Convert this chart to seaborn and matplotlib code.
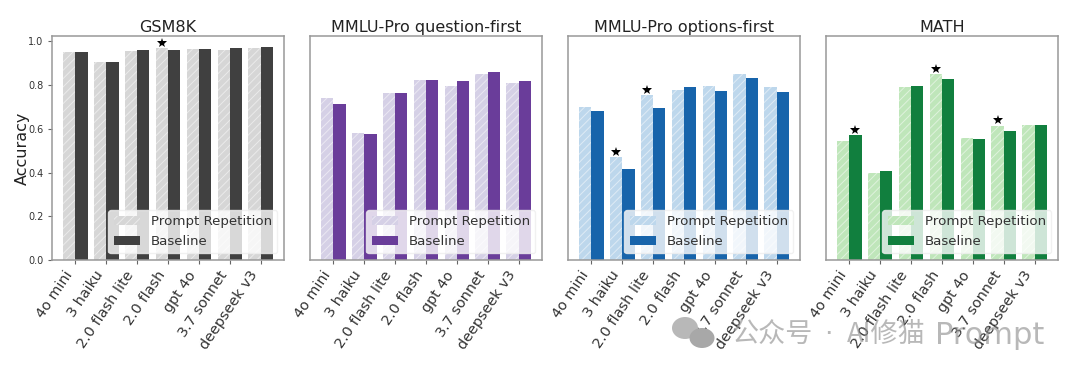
import pandas as pd
import matplotlib
matplotlib.use("Agg")
import matplotlib.pyplot as plt
from matplotlib.patches import Patch, Ellipse
import seaborn as sns

# =========================
# DADES
# =========================
models = ['4o mini', '3 haiku', '2.0 flash lite', '2.0 flash', 'gpt 4o', '3.7 sonnet', 'deepseek v3']
series_names = ['Prompt Repetition', 'Baseline']
titles = ['GSM8K', 'MMLU-Pro question-first', 'MMLU-Pro options-first', 'MATH']

gsm_rep = [0.950, 0.905, 0.955, 0.968, 0.965, 0.963, 0.970]
gsm_base = [0.950, 0.907, 0.962, 0.963, 0.965, 0.968, 0.975]
qf_rep = [0.740, 0.580, 0.765, 0.825, 0.795, 0.850, 0.812]
qf_base = [0.715, 0.575, 0.762, 0.825, 0.820, 0.860, 0.820]
of_rep = [0.700, 0.470, 0.755, 0.780, 0.795, 0.850, 0.790]
of_base = [0.680, 0.415, 0.695, 0.790, 0.775, 0.835, 0.770]
math_rep = [0.545, 0.400, 0.790, 0.850, 0.560, 0.615, 0.620]
math_base = [0.570, 0.405, 0.795, 0.830, 0.555, 0.590, 0.617]

rep_values = [gsm_rep, qf_rep, of_rep, math_rep]
base_values = [gsm_base, qf_base, of_base, math_base]

rep_colors = ['#d6d6d6', '#d5d0e6', '#bdd7ec', '#bfe6ba']
base_colors = ['#404040', '#6a3d9a', '#1764ab', '#117f3e']

# estrelles: (índex del model, índex de la sèrie)
stars = [
    [(3, 0)],
    [],
    [(1, 0), (2, 0)],
    [(0, 1), (3, 0), (5, 0)],
]

# =========================
# FIGURA
# =========================
sns.set_theme(style="ticks")
plt.rcParams['font.family'] = ['DejaVu Sans', 'Noto Sans CJK SC']
plt.rcParams['hatch.linewidth'] = 0.7

fig, axes = plt.subplots(1, 4, figsize=(10.8, 3.77), dpi=100, sharey=True)
fig.subplots_adjust(left=52/1080, right=1058/1080, top=1-36/377, bottom=1-260/377, wspace=0.112)

for i, ax in enumerate(axes):
    df = pd.DataFrame({
        'model': models * 2,
        'serie': [series_names[0]] * 7 + [series_names[1]] * 7,
        'accuracy': rep_values[i] + base_values[i],
    })
    sns.barplot(data=df, x='model', y='accuracy', hue='serie', hue_order=series_names,
                palette=[rep_colors[i], base_colors[i]], saturation=1, legend=False,
                width=0.8, gap=0, linewidth=0, ax=ax)

    # ratllat blanc de les barres de Prompt Repetition
    for bar in ax.containers[0]:
        bar.set_hatch('////')
        bar.set_edgecolor('#ffffff80')

    # estrelles sobre les barres
    for model_idx, serie_idx in stars[i]:
        bar = ax.containers[serie_idx][model_idx]
        ax.plot(bar.get_x() + bar.get_width() / 2, bar.get_height() + 0.025, marker='*',
                color='black', markersize=7.5, markeredgewidth=0, zorder=5, clip_on=False)

    handles = [
        Patch(facecolor=rep_colors[i], edgecolor='#ffffff80', hatch='////', linewidth=0),
        Patch(facecolor=base_colors[i], linewidth=0),
    ]
    ax.legend(handles=handles, labels=series_names, loc='lower right',
              fontsize=9.6, framealpha=0.8, borderaxespad=0.5, handlelength=2, labelcolor='#333333',
              fancybox=True, edgecolor='#eeeeee')

    ax.set_title(titles[i], fontsize=11.5, color='#222222', pad=3)
    ax.set_xlim(-0.75, 6.75)
    ax.set_ylim(0, 1.025)
    ax.set_xlabel('')
    ax.set_ylabel('')
    ax.set_xticks(range(len(models)))
    ax.set_xticklabels(models, rotation=56, ha='right', fontsize=10.4, color='#333333')
    ax.tick_params(axis='x', length=3, width=0.8, color='#666666', pad=3)
    ax.tick_params(axis='y', labelsize=7, length=3, width=0.8, color='#666666', labelcolor='#333333', pad=3)
    if i > 0:
        ax.tick_params(axis='y', length=0, labelleft=False)
    for spine in ax.spines.values():
        spine.set_visible(True)
        spine.set_color('#999999')
        spine.set_linewidth(1.1)

axes[0].set_ylabel('Accuracy', fontsize=11.5, color='#222222', labelpad=-1)

# =========================
# MARCA D'AIGUA
# =========================
w, h = fig.get_size_inches() * fig.dpi
wm_font = ['Noto Sans CJK SC', 'DejaVu Sans']
fig.text(732/w, 1-335/h, '公众号', fontsize=19.5, color='#8a8a8a', alpha=0.6, va='center', family=wm_font)
fig.text(828/w, 1-335/h, '·', fontsize=19.5, color='#8a8a8a', alpha=0.6, va='center', ha='center', family='DejaVu Sans')
fig.text(847/w, 1-335/h, 'AI修猫', fontsize=19.5, color='#8a8a8a', alpha=0.6, va='center', family=wm_font)
fig.text(935/w, 1-335/h, 'Prompt', fontsize=22, color='#8a8a8a', alpha=0.6, va='center', family='DejaVu Sans')
fig.add_artist(Ellipse((685/w, 1-328/h), 26/w, 22/h, transform=fig.transFigure, color='#b8b8b8', lw=0))
fig.add_artist(Ellipse((702/w, 1-338/h), 25/w, 20/h, transform=fig.transFigure, color='#a8a8a8', lw=0))

fig.savefig('out.png', dpi=100)
